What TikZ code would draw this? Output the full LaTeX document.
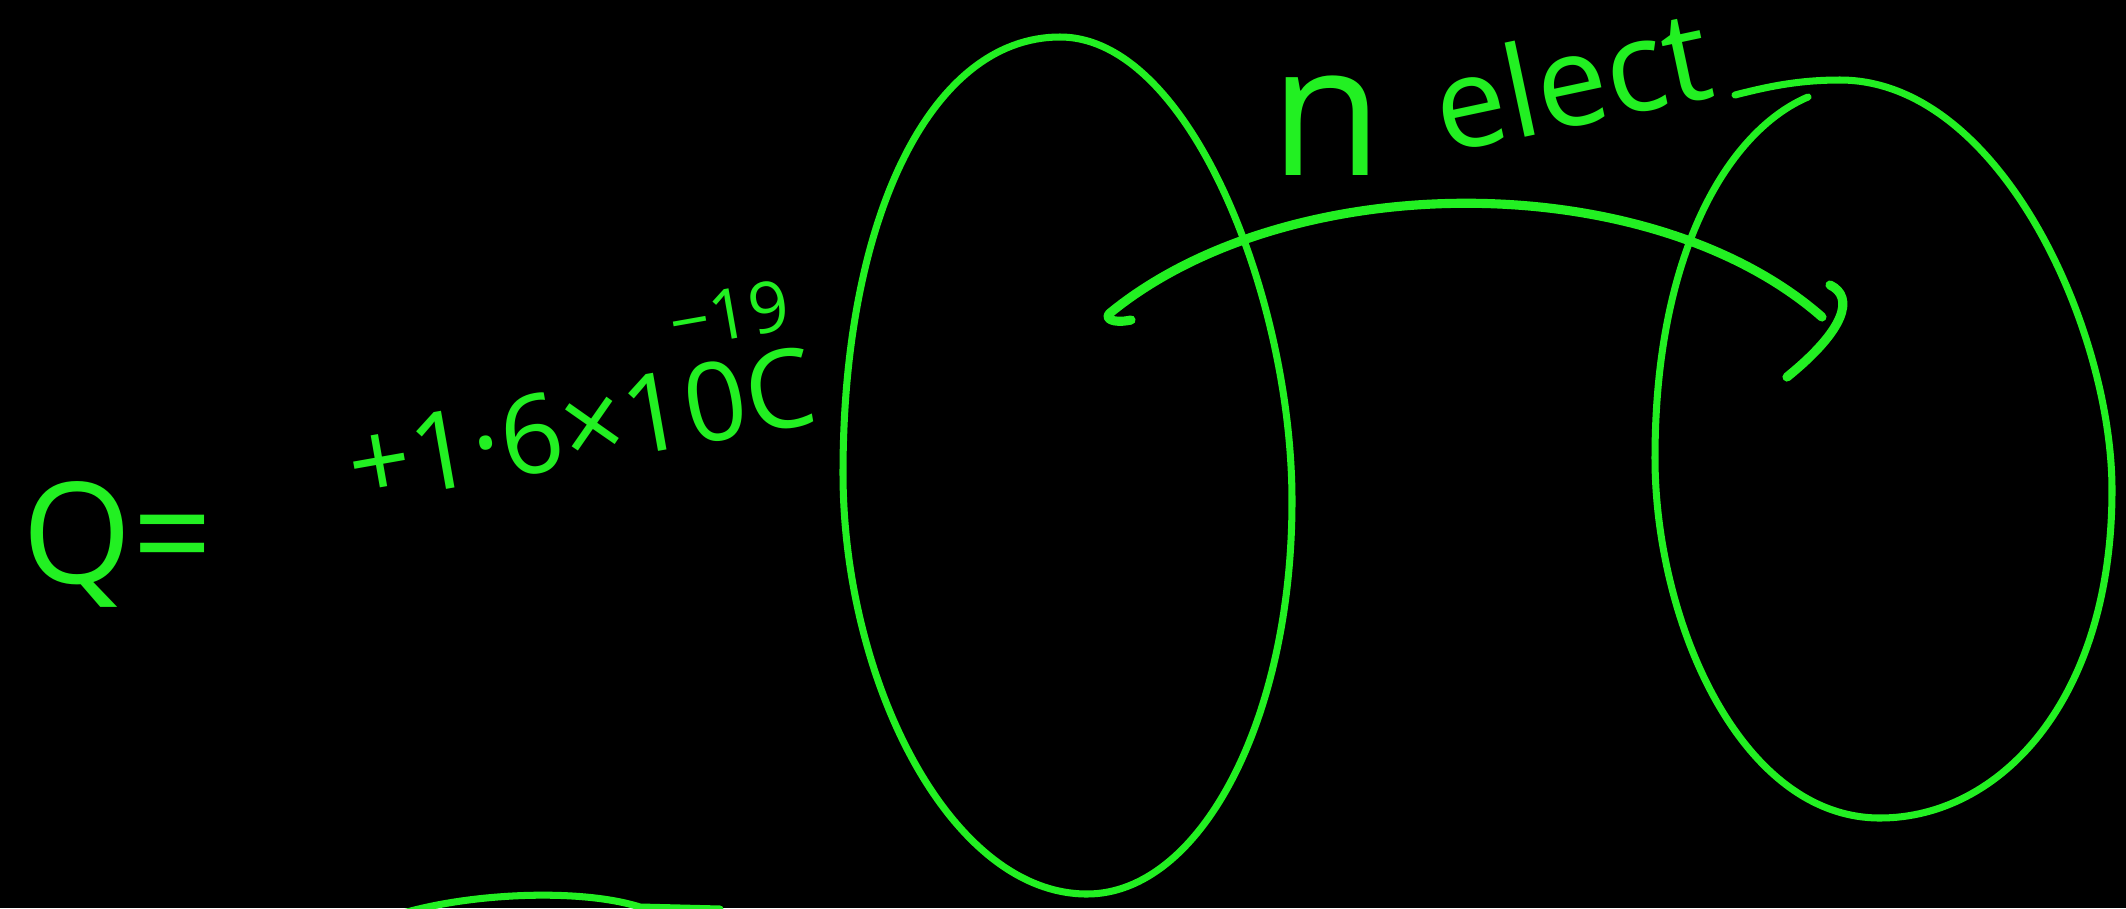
\documentclass[tikz,border=0pt]{standalone}
\usepackage{fontspec}
\setmainfont{Open Sans}
\definecolor{chalk}{HTML}{22F022}
\begin{document}
\begin{tikzpicture}[
x=0.01cm, y=-0.01cm,
pen/.style={draw=chalk, line width=2pt, line cap=round, line join=round},
bold pen/.style={pen, line width=2.6pt},
every node/.style={text=chalk, inner sep=0pt, anchor=base west}
]
\path[use as bounding box, fill=black] (0,0) rectangle (2126,908);
\clip (0,0) rectangle (2126,908);
\node (qsym) at (22,583) {\fontsize{40}{44}\selectfont Q=};
\node[rotate=10] (qval) at (355,505) {\fontsize{31}{34}\selectfont +1·6×1\makebox[0pt][l]{\raisebox{0.9em}{\fontsize{20}{22}\selectfont −19}}0C};
\node (nsym) at (1270,175) {\fontsize{52}{54}\selectfont n};
\node[rotate=12] (elect) at (1444,154) {\fontsize{36}{38}\selectfont elect};
\draw[pen] (1060,37) .. controls (1190,37) and (1292,300) .. (1292,501)
  .. controls (1292,720) and (1200,894) .. (1087,894)
  .. controls (950,894) and (843,680) .. (843,473)
  .. controls (843,220) and (930,37) .. (1060,37) -- cycle;
\draw[pen] (1735,95) .. controls (1770,86) and (1800,80) .. (1840,80)
  .. controls (2000,80) and (2112,330) .. (2112,490)
  .. controls (2112,700) and (2000,818) .. (1880,818)
  .. controls (1740,818) and (1655,620) .. (1655,458)
  .. controls (1655,250) and (1730,130) .. (1808,97);
\coordinate (hook) at (1131,320);
\coordinate (tail) at (1110,313);
\coordinate (tip) at (1822,317);
\coordinate (barbtop) at (1830,285);
\coordinate (barbend) at (1787,377);
\draw[bold pen] (hook) .. controls (1112,324) and (1104,318) .. (tail) .. controls (1290,166) and (1650,166) .. (tip);
\draw[bold pen] (barbtop) .. controls (1855,297) and (1845,330) .. (barbend);
\draw[pen] (400,914) .. controls (470,893) and (580,888) .. (640,907) -- (720,909);
\end{tikzpicture}
\end{document}
